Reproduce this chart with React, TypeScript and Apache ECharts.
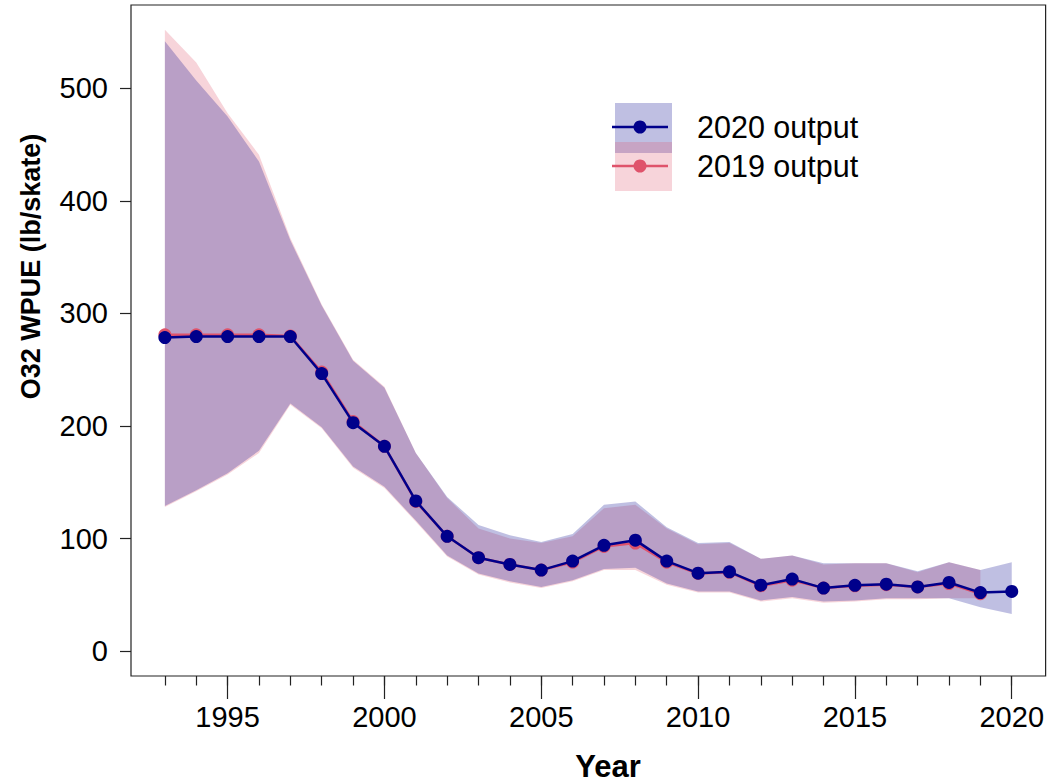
import React, { useEffect, useRef } from "react";
import * as echarts from "echarts";

const years = [1993, 1994, 1995, 1996, 1997, 1998, 1999, 2000, 2001, 2002, 2003, 2004, 2005, 2006, 2007, 2008, 2009, 2010, 2011, 2012, 2013, 2014, 2015, 2016, 2017, 2018, 2019, 2020];
const majorYears = [1995, 2000, 2005, 2010, 2015, 2020];
const yTicks = [0, 100, 200, 300, 400, 500];

// 2020 output (1993-2020)
const est2020 = [278.6, 279.5, 279.5, 279.5, 279.5, 246.6, 203, 182, 133.5, 102, 83, 77, 72, 80, 94, 98.6, 80, 69.3, 70.5, 58.6, 64, 56, 58.5, 59.5, 57, 61, 52, 53];
const upper2020 = [542, 507, 475, 435, 365, 307, 258, 234, 176, 137, 112, 103, 97, 104, 130, 133, 110, 96, 97, 82, 85, 78, 78, 78, 71, 79, 72, 79];
const lower2020 = [129, 143, 158, 178, 220, 199, 164, 146, 116, 85, 69, 62, 57, 63, 73, 74, 60, 53, 53, 45, 48, 44, 45, 47, 47, 47, 39, 33];

// 2019 output (1993-2019)
const est2019 = [281, 281, 281, 281, 280, 248, 204, 182, 133, 102, 83, 77, 72, 79, 93, 96, 79, 69, 70, 58, 63, 56, 58, 59, 57, 60, 51];
const upper2019 = [552, 523, 478, 441, 367, 308, 259, 235, 176, 136, 109, 100, 96, 102, 127, 130, 109, 95, 96, 82, 85, 77, 78, 78, 70, 79, 72];
const lower2019 = [128, 142, 157, 176, 219, 198, 163, 145, 115, 84, 68, 61, 56, 62, 72, 72, 59, 52, 52, 44, 47, 43, 44, 46, 46, 47, 47];

const NAVY = "#00008B";
const RED = "#DF536B";
const NAVY_FILL = "rgba(0,0,139,0.25)";
const RED_FILL = "rgba(223,83,107,0.25)";
const FONT = '"Liberation Sans", Arial, sans-serif';

export default function App() {
  const ref = useRef<HTMLDivElement>(null);
  useEffect(() => {
    if (!ref.current) return;
    const chart = echarts.init(ref.current, undefined, { renderer: "svg" });
    const pairs = (vals: number[]) => vals.map((v, i) => [years[i], v]);

    const band = (name: string, up: number[], lo: number[], fill: string, z: number) => ({
      name,
      type: "custom",
      silent: true,
      z,
      data: [[years[0], up[0]]],
      renderItem: (_params: any, api: any) => {
        const pts: number[][] = [];
        for (let i = 0; i < up.length; i++) pts.push(api.coord([years[i], up[i]]));
        for (let i = lo.length - 1; i >= 0; i--) pts.push(api.coord([years[i], lo[i]]));
        return { type: "polygon", shape: { points: pts }, style: { fill, stroke: "none" } };
      },
    });

    const fmt = (v: number) => String(v);

    chart.setOption({
      animation: false,
      grid: { left: 131, top: 5, width: 915, height: 671, show: true, borderColor: "#222", borderWidth: 1.2, backgroundColor: "transparent" },
      xAxis: [
        {
          type: "value", min: 1991.92, max: 2021.08, position: "bottom",
          axisLine: { show: false, onZero: false }, splitLine: { show: false },
          axisTick: { show: true, customValues: years, length: 9.5, lineStyle: { color: "#222", width: 1.2 } },
          axisLabel: { show: false },
        },
        {
          type: "value", min: 1991.92, max: 2021.08, position: "bottom",
          axisLine: { show: false, onZero: false }, splitLine: { show: false },
          axisTick: { show: true, customValues: majorYears, length: 23, lineStyle: { color: "#222", width: 1.2 } },
          axisLabel: { show: true, customValues: majorYears, formatter: fmt, fontSize: 29, color: "#000", fontFamily: FONT, margin: 26 },
        },
      ],
      yAxis: {
        type: "value", min: -22.1, max: 574.1,
        axisLine: { show: false, onZero: false }, splitLine: { show: false },
        axisTick: { show: true, customValues: yTicks, length: 11, lineStyle: { color: "#222", width: 1.2 } },
        axisLabel: { show: true, customValues: yTicks, formatter: fmt, fontSize: 29, color: "#000", fontFamily: FONT, margin: 23 },
      },
      series: [
        band("band2019", upper2019, lower2019, RED_FILL, 1),
        band("band2020", upper2020, lower2020, NAVY_FILL, 2),
        {
          name: "2019 output", type: "line", data: pairs(est2019), symbol: "circle", symbolSize: 13,
          lineStyle: { color: RED, width: 2.5 }, itemStyle: { color: RED }, z: 3,
        },
        {
          name: "2020 output", type: "line", data: pairs(est2020), symbol: "circle", symbolSize: 13,
          lineStyle: { color: NAVY, width: 2.5 }, itemStyle: { color: NAVY }, z: 4,
        },
      ],
      graphic: [
        { type: "rect", shape: { x: 615, y: 103, width: 57, height: 50 }, style: { fill: NAVY_FILL } },
        { type: "rect", shape: { x: 615, y: 142, width: 57, height: 49 }, style: { fill: RED_FILL } },
        { type: "line", shape: { x1: 612, y1: 127, x2: 668, y2: 127 }, style: { stroke: NAVY, lineWidth: 2.5 } },
        { type: "circle", shape: { cx: 640, cy: 127, r: 6.5 }, style: { fill: NAVY } },
        { type: "line", shape: { x1: 612, y1: 166, x2: 668, y2: 166 }, style: { stroke: RED, lineWidth: 2.5 } },
        { type: "circle", shape: { cx: 640, cy: 166, r: 6.5 }, style: { fill: RED } },
        { type: "text", x: 697, y: 127, style: { text: "2020 output", fontSize: 30.5, fontFamily: FONT, fill: "#000", verticalAlign: "middle", align: "left" } },
        { type: "text", x: 697, y: 166, style: { text: "2019 output", fontSize: 30.5, fontFamily: FONT, fill: "#000", verticalAlign: "middle", align: "left" } },
        { type: "text", x: 608, y: 766.5, style: { text: "Year", fontSize: 31, fontWeight: "bold", fontFamily: FONT, fill: "#000", verticalAlign: "middle", align: "center" } },
        { type: "text", x: 31, y: 266.5, rotation: Math.PI / 2, style: { text: "O32 WPUE (lb/skate)", fontSize: 27, fontWeight: "bold", fontFamily: FONT, fill: "#000", verticalAlign: "middle", align: "center" } },
      ],
    });
    return () => chart.dispose();
  }, []);
  return <div ref={ref} style={{ position: "absolute", left: 0, top: 0, width: 1047, height: 784 }} />;
}
